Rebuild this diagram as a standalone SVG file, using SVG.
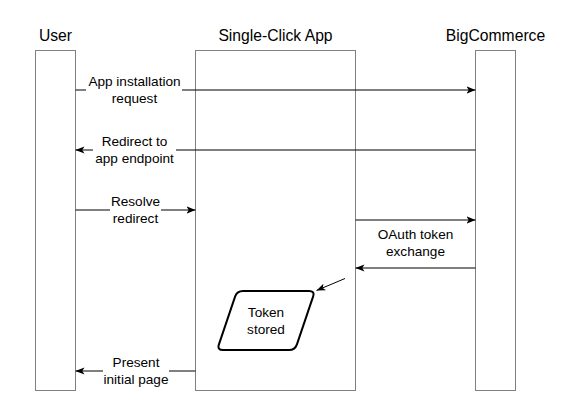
<svg xmlns="http://www.w3.org/2000/svg" width="580" height="411" viewBox="0 0 580 411">
<style>
.box{fill:#ffffff;stroke:#808080;stroke-width:1}
.title{font-family:"Liberation Sans",Arial,sans-serif;font-size:15.7px;fill:#000;text-anchor:middle}
.lbl{font-family:"Liberation Sans",Arial,sans-serif;font-size:13.6px;fill:#000;text-anchor:middle}
.edge{fill:none;stroke:#000;stroke-width:1}
.shape{fill:#ffffff;stroke:#000;stroke-width:2}
</style>
<defs>
<marker id="arr" markerUnits="userSpaceOnUse" viewBox="0 0 10 8" markerWidth="9" markerHeight="7.2" refX="10" refY="4" orient="auto">
<path d="M0,0 L10,4 L0,8 L2.5,4 Z" fill="#000"/>
</marker>
</defs>
<rect width="580" height="411" fill="#ffffff"/>
<g id="user">
<text class="title" x="55.5" y="41">User</text>
<rect class="box" x="35.5" y="50.5" width="40" height="340"/>
</g>
<g id="app">
<text class="title" x="275.5" y="41">Single-Click App</text>
<rect class="box" x="195.5" y="50.5" width="160" height="340"/>
</g>
<g id="bigcommerce">
<text class="title" x="495.5" y="41">BigCommerce</text>
<rect class="box" x="475.5" y="50.5" width="40" height="340"/>
</g>
<g id="token">
<path class="shape" d="M243,291 L309,291 Q315,291 313.07,296.68 L296.93,344.32 Q295,350 289,350 L223,350 Q217,350 218.93,344.32 L235.07,296.68 Q237,291 243,291 Z"/>
<text class="lbl" x="266" y="316.5">Token</text>
<text class="lbl" x="266" y="333.5">stored</text>
</g>
<g id="connectors">
<path class="edge" d="M75.5,90 H86"/>
<path class="edge" d="M182,90 H475.5" marker-end="url(#arr)"/>
<text class="lbl" x="134.5" y="86">App installation</text>
<text class="lbl" x="134.5" y="103">request</text>

<path class="edge" d="M475.5,150 H176"/>
<path class="edge" d="M93,150 H75.5" marker-end="url(#arr)"/>
<text class="lbl" x="134.5" y="146">Redirect to</text>
<text class="lbl" x="134.5" y="163">app endpoint</text>

<path class="edge" d="M75.5,210 H110"/>
<path class="edge" d="M161,210 H195.5" marker-end="url(#arr)"/>
<text class="lbl" x="135.5" y="206">Resolve</text>
<text class="lbl" x="135.5" y="223">redirect</text>

<path class="edge" d="M355.5,220 H475.5" marker-end="url(#arr)"/>
<path class="edge" d="M475.5,268 H355.5" marker-end="url(#arr)"/>
<text class="lbl" x="415.5" y="239">OAuth token</text>
<text class="lbl" x="415.5" y="256">exchange</text>

<path class="edge" d="M345,278.5 L316.5,290.5" marker-end="url(#arr)"/>

<path class="edge" d="M195.5,371 H169"/>
<path class="edge" d="M103,371 H75.5" marker-end="url(#arr)"/>
<text class="lbl" x="136" y="366.5">Present</text>
<text class="lbl" x="136" y="383.5">initial page</text>
</g>
</svg>
